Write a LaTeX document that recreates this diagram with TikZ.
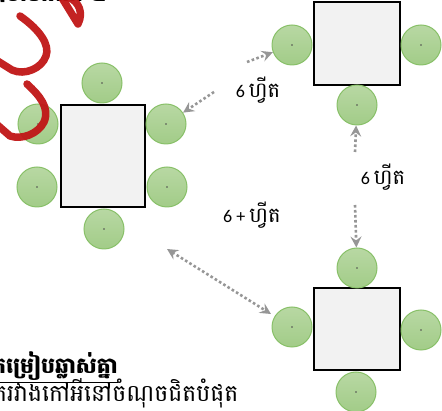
\documentclass[tikz,border=0pt]{standalone}
\usepackage{fontspec}
\setmainfont{Carlito}
\newfontfamily\khm[Script=Khmer]{Battambang}
\usetikzlibrary{arrows.meta}
\definecolor{chairtop}{RGB}{184,216,163}
\definecolor{chairbottom}{RGB}{162,204,136}
\definecolor{chairline}{RGB}{136,192,104}
\definecolor{tablefill}{RGB}{242,242,242}
\definecolor{arrowgray}{RGB}{150,150,150}
\definecolor{markred}{RGB}{192,22,22}
\newcommand{\khmbig}[1]{{\fontsize{21}{24}\selectfont\khm #1}}
\begin{document}
\begin{tikzpicture}
[x=1pt,y=-1pt,
 tabledecorate/.style={shape=rectangle,inner sep=0pt,draw,line width=2pt,fill=tablefill},%
 chairdecorate/.style={shape=circle,inner sep=0pt,minimum size=40pt,draw=chairline,line width=1pt,
   top color=chairtop,bottom color=chairbottom},%
 linedecorate/.style={arrowgray,line width=2.6pt,dash pattern=on 2.6pt off 2.4pt,
   -{Stealth[length=11pt,width=11pt,inset=4pt]}},%
 textdecorate/.style={font=\fontsize{18}{22}\selectfont,inner sep=0pt},%
 markdecorate/.style={markred,line width=7.5pt,line cap=round,line join=round,opacity=0.95}]
\clip (0,0) rectangle (442,411);
\useasboundingbox (0,0) rectangle (442,411);
%% tables
\node (t1) at (103,156) [tabledecorate,minimum width=84pt,minimum height=102pt] {};
\node (t2) at (357,44) [tabledecorate,minimum width=86pt,minimum height=83pt] {};
\node (t3) at (357,329) [tabledecorate,minimum width=86pt,minimum height=82pt] {};
%% chairs
\foreach \nodename/\x/\y in {c1n/102/83, c1nw/38/124, c1ne/166/124, c1sw/37/187,
  c1se/167/187, c1s/104/229, c2w/292/45, c2e/421/45, c2s/357/105,
  c3n/357/268, c3w/292/327, c3e/421/330, c3s/356/392} {
  \node (\nodename) at (\x,\y) [chairdecorate] {};
  \fill[black!70] (\nodename) circle (0.8pt);
}
%% free ends of the arrows
\coordinate (a1) at (214,92);
\coordinate (a2) at (247,62);
\coordinate (a3) at (355,152);
\coordinate (a4) at (355,205);
\coordinate (d1) at (167,249);
\coordinate (d2) at (271,314);
%% arrows
\draw[linedecorate] (a1) -- (c1ne);
\draw[linedecorate] (a2) -- (c2w);
\draw[linedecorate] (a3) -- (c2s);
\draw[linedecorate] (a4) -- (c3n);
\draw[linedecorate,{Stealth[length=11pt,width=11pt,inset=4pt]}-{Stealth[length=11pt,width=11pt,inset=4pt]}] (d1) -- (d2);
%% labels
\node (l1) at (258,90) [textdecorate] {6 \khmbig{ហ្វីត}};
\node (l2) at (383,177) [textdecorate] {6 \khmbig{ហ្វីត}};
\node (l3) at (252,215) [textdecorate] {6 + \khmbig{ហ្វីត}};
%% texts at the edges
\node (title) at (-8,2) [textdecorate,anchor=base west,font=\fontsize{22}{26}\selectfont\bfseries] {\khm ឧទាហរណ៍ ៤};
\node (note1) at (-8,374) [textdecorate,anchor=base west,font=\fontsize{22}{26}\selectfont] {\khm\bfseries\underline{តម្រៀបឆ្លាស់គ្នា}};
\node (note2) at (-7,402) [textdecorate,anchor=base west,font=\fontsize{23.5}{27}\selectfont] {\khm តរវាងកៅអីនៅចំណុចជិតបំផុត};
%% red pen marks
\draw[markdecorate] (20,16) .. controls (40,30) and (50,45) .. (46,56)
  .. controls (42,68) and (25,76) .. (12,70) -- (-4,60);
\draw[markdecorate] (62,-2) -- (78,24) .. controls (84,12) and (78,2) .. (70,-2);
\draw[markdecorate] (27,84) .. controls (40,96) and (50,108) .. (44,122)
  .. controls (38,134) and (22,140) .. (10,136) -- (-6,122);
\end{tikzpicture}
\end{document}
